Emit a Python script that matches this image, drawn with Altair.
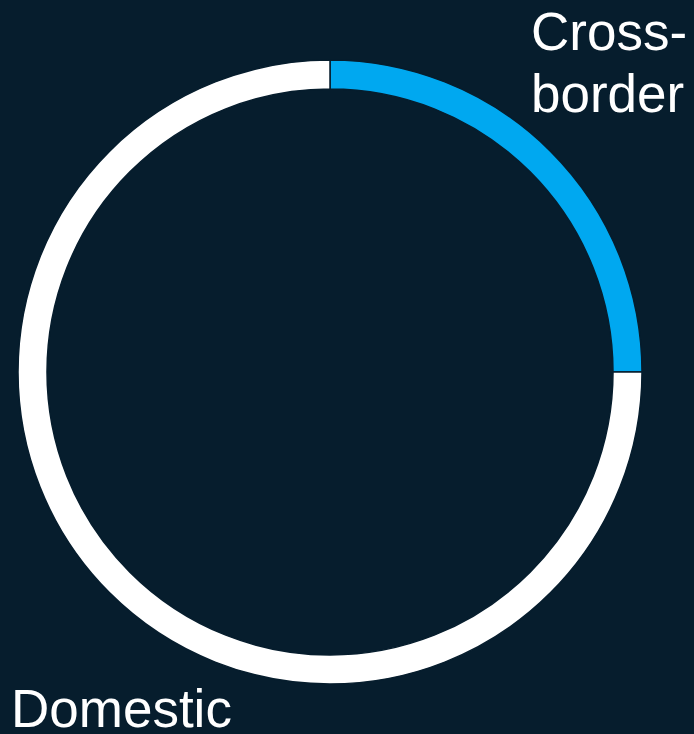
import altair as alt
import pandas as pd

categories = ["Cross-border", "Domestic"]
shares = [25, 75]
colors = ["#00a8f0", "#ffffff"]

BG = "#061d2d"

df = pd.DataFrame({"category": categories, "share": shares, "order": [0, 1]})

donut = alt.Chart(df).mark_arc(
    outerRadius=312, innerRadius=283, stroke=BG, strokeWidth=1.5
).encode(
    theta=alt.Theta("share:Q", stack=True),
    order=alt.Order("order:Q"),
    color=alt.Color("category:N", scale=alt.Scale(domain=categories, range=colors), legend=None),
    x=alt.value(330),
    y=alt.value(372),
)

lab1 = alt.Chart(pd.DataFrame({"t": ["Cross-\nborder"]})).mark_text(
    font="Liberation Sans", fontSize=53, color="white", align="left",
    baseline="alphabetic", lineBreak="\n", lineHeight=62
).encode(text="t:N", x=alt.value(531), y=alt.value(50))

lab2 = alt.Chart(pd.DataFrame({"t": ["Domestic"]})).mark_text(
    font="Liberation Sans", fontSize=53, color="white", align="left",
    baseline="alphabetic"
).encode(text="t:N", x=alt.value(11), y=alt.value(727))

chart = alt.layer(donut, lab1, lab2).properties(
    width=694, height=734, background=BG, padding=0
).configure_view(stroke=None)

chart.save("out.html", embed_options={"renderer": "svg", "actions": False})
